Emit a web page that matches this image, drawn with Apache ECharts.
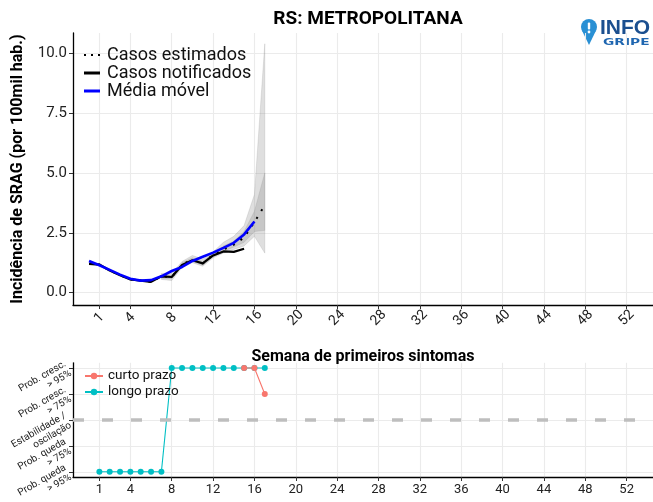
<!DOCTYPE html>
<html><head><meta charset="utf-8">
<script src="https://cdn.jsdelivr.net/npm/echarts@6/dist/echarts.min.js"></script>
<style>html,body{margin:0;padding:0;background:#fff}#c{width:653px;height:502px}</style>
</head><body><div id="c"></div>
<script>
// ---- Data ----
const weekTicks = [1,4,8,12,16,20,24,28,32,36,40,44,48,52];
const yTicksTop = [0,2.5,5,7.5,10];

const weeksNotified = [0,1,2,3,4,5,6,7,8,9,10,11,12,13,14,15];
const notified      = [1.2,1.17,0.92,0.72,0.55,0.5,0.45,0.68,0.65,1.15,1.35,1.22,1.55,1.72,1.7,1.83];

const weeksEstimated = [0,1,2,3,4,5,6,7,8,9,10,11,12,13,14,15,16,17];
const estimated      = [1.2,1.17,0.92,0.72,0.55,0.5,0.45,0.68,0.65,1.17,1.38,1.22,1.58,1.8,2.0,2.3,2.95,3.65];

const weeksMA = [0,1,2,3,4,5,6,7,8,9,10,11,12,13,14,15,16];
const movingAvg = [1.32,1.14,0.95,0.75,0.58,0.5,0.52,0.68,0.9,1.07,1.32,1.5,1.67,1.87,2.08,2.43,2.97];

const weeksBand = [7,8,9,10,11,12,13,14,15,16,17];
const outerLo = [0.55,0.5,1.05,1.25,1.1,1.45,1.65,1.8,1.95,2.35,1.65];
const outerHi = [0.8,0.8,1.3,1.55,1.4,1.7,2.1,2.35,2.8,4.1,10.4];
const innerLo = [0.6,0.58,1.1,1.3,1.15,1.5,1.72,1.9,2.1,2.55,2.6];
const innerHi = [0.75,0.72,1.25,1.45,1.3,1.65,1.95,2.15,2.55,3.4,5.0];

const trendLevels = [-2,-1,0,1,2];
const trendLabels = ['Prob. queda\n> 95%','Prob. queda\n> 75%','Estabilidade /\noscilação','Prob. cresc.\n> 75%','Prob. cresc.\n> 95%'];

const weeksLong = [1,2,3,4,5,6,7,8,9,10,11,12,13,14,15,16,17];
const longTerm  = [-2,-2,-2,-2,-2,-2,-2,2,2,2,2,2,2,2,2,2,2];
const weeksShort = [15,16,17];
const shortTerm  = [2,2,1];

// ---- Helpers ----
const zip = (xs, ys) => xs.map((x,i)=>[x, ys[i]]);
const font = 'Roboto, "Liberation Sans", sans-serif';

function bandSeries(lo, hi, color){
  return {
    type:'custom', xAxisIndex:0, yAxisIndex:0, silent:true, z:1,
    data: weeksBand.map((w,i)=>[w, lo[i], hi[i]]),
    renderItem(params, api){
      if (params.dataIndex !== 0) return null;
      const top = weeksBand.map((w,i)=>api.coord([w, hi[i]]));
      const bot = weeksBand.map((w,i)=>api.coord([w, lo[i]])).reverse();
      return {type:'polygon', shape:{points: top.concat(bot)},
        style:{fill: color, stroke:'rgba(140,140,140,0.35)', lineWidth:0.6}};
    }
  };
}

const chart = echarts.init(document.getElementById('c'));
const gridColor = '#ebebeb';
const xMin = -1.55, xMax = 54.55;

chart.setOption({
  animation:false,
  backgroundColor:'#fff',
  title:{ text:'RS: METROPOLITANA', left:363, top:5, textAlign:'center',
    textStyle:{fontFamily:font, fontSize:19, fontWeight:'bold', color:'#000'} },
  legend:[
    { left:79, top:41, orient:'vertical', itemGap:0, itemWidth:16, itemHeight:3,
      textStyle:{fontFamily:font, fontSize:18, lineHeight:17, color:'#111', padding:[0,0,0,2]},
      data:[
        {name:'Casos estimados', icon:'path://M0,0h2v2h-2zM7,0h2v2h-2zM14,0h2v2h-2z'},
        {name:'Casos notificados', icon:'rect'},
        {name:'Média móvel', icon:'rect'}
      ]},
    { left:79, top:364, orient:'vertical', itemGap:2, itemWidth:18, itemHeight:8,
      textStyle:{fontFamily:font, fontSize:13.5, color:'#111'},
      data:['curto prazo','longo prazo']}
  ],
  grid:[
    {left:73, right:0, top:33, height:272, outerBoundsMode:'none', containLabel:false},
    {left:73, right:0, top:362.8, height:114.2, outerBoundsMode:'none', containLabel:false}
  ],
  xAxis:[
    { type:'value', gridIndex:0, min:xMin, max:xMax,
      name:'Semana de primeiros sintomas', nameLocation:'middle', nameGap:44,
      nameTextStyle:{fontFamily:font, fontSize:16, fontWeight:'bold', color:'#000'},
      axisLine:{show:true, onZero:false, lineStyle:{color:'#000', width:1.3}},
      axisTick:{show:true, length:4, customValues:weekTicks, lineStyle:{color:'#333'}},
      axisLabel:{customValues:weekTicks, rotate:45, align:'center', verticalAlign:'middle',
        fontFamily:font, fontSize:14, color:'#222', margin:13, hideOverlap:false},
      splitLine:{show:true, lineStyle:{color:gridColor, width:1.1}} },
    { type:'value', gridIndex:1, min:xMin, max:xMax,
      axisLine:{show:true, onZero:false, lineStyle:{color:'#000', width:1.3}},
      axisTick:{show:true, length:4, customValues:weekTicks, lineStyle:{color:'#333'}},
      axisLabel:{customValues:weekTicks, fontFamily:font, fontSize:13, color:'#222', margin:6, hideOverlap:false},
      splitLine:{show:true, lineStyle:{color:gridColor, width:1.1}} }
  ],
  yAxis:[
    { type:'value', gridIndex:0, min:-0.52, max:10.85,
      name:'Incidência de SRAG (por 100mil hab.)', nameLocation:'middle', nameGap:47,
      nameTextStyle:{fontFamily:font, fontSize:16, fontWeight:'bold', color:'#000'},
      axisLine:{show:true, onZero:false, lineStyle:{color:'#000', width:1.3}},
      axisTick:{show:true, length:4, customValues:yTicksTop, lineStyle:{color:'#333'}},
      axisLabel:{customValues:yTicksTop, fontFamily:font, fontSize:15, color:'#222', margin:6,
        hideOverlap:false, formatter:v=>v.toFixed(1)},
      splitLine:{show:true, lineStyle:{color:gridColor, width:1.1}} },
    { type:'value', gridIndex:1, min:-2.2, max:2.2,
      axisLine:{show:true, onZero:false, lineStyle:{color:'#000', width:1.3}},
      axisTick:{show:true, length:4, customValues:trendLevels, lineStyle:{color:'#333'}},
      axisLabel:{customValues:trendLevels, rotate:30, fontFamily:font, fontSize:10, color:'#222',
        margin:5, align:'right', lineHeight:11, hideOverlap:false, showMinLabel:true, showMaxLabel:true,
        formatter:v=>trendLabels[trendLevels.indexOf(Math.round(v))] || ''},
      splitLine:{show:true, lineStyle:{color:gridColor, width:1.1}} }
  ],
  series:[
    bandSeries(outerLo, outerHi, 'rgba(128,128,128,0.25)'),
    bandSeries(innerLo, innerHi, 'rgba(128,128,128,0.25)'),
    { name:'Casos notificados', type:'line', xAxisIndex:0, yAxisIndex:0, z:3,
      data:zip(weeksNotified, notified), showSymbol:false, symbol:'none',
      itemStyle:{color:'#000'}, lineStyle:{color:'#000', width:2.2} },
    { name:'Casos estimados', type:'line', xAxisIndex:0, yAxisIndex:0, z:4,
      data:zip(weeksEstimated, estimated), showSymbol:false, symbol:'none',
      itemStyle:{color:'#000'}, lineStyle:{color:'#000', width:2, type:[2,7]} },
    { name:'Média móvel', type:'line', xAxisIndex:0, yAxisIndex:0, z:5,
      data:zip(weeksMA, movingAvg), showSymbol:false, symbol:'none',
      itemStyle:{color:'#0000ff'}, lineStyle:{color:'#0000ff', width:2.6} },
    { name:'curto prazo', type:'line', xAxisIndex:1, yAxisIndex:1, z:3,
      data:zip(weeksShort, shortTerm), symbol:'circle', symbolSize:6,
      itemStyle:{color:'#F8766D'}, lineStyle:{color:'#F8766D', width:1.1} },
    { name:'longo prazo', type:'line', xAxisIndex:1, yAxisIndex:1, z:2,
      data:zip(weeksLong, longTerm), symbol:'circle', symbolSize:6,
      itemStyle:{color:'#00BFC4'}, lineStyle:{color:'#00BFC4', width:1.1},
      markLine:{ silent:true, symbol:'none', label:{show:false},
        lineStyle:{color:'#bebebe', width:3.5, type:[11,18]},
        data:[{yAxis:0}] } }
  ],
  graphic:[
    { type:'group', left:581, top:18, children:[
      { type:'circle', shape:{cx:8, cy:8, r:8}, style:{fill:'#2a90d4'} },
      { type:'polygon', shape:{points:[[1.2,12],[14.8,12],[8,26]]}, style:{fill:'#2a90d4'} },
      { type:'rect', shape:{x:6.8, y:3.5, width:2.4, height:7, r:1}, style:{fill:'#fff'} },
      { type:'circle', shape:{cx:8, cy:13, r:1.4}, style:{fill:'#fff'} },
      { type:'text', x:19, y:-1, style:{text:'INFO', fontFamily:'"Liberation Sans", Arial, sans-serif', fontSize:21, fontWeight:'bold', fill:'#1b4f8f'} },
      { type:'text', x:22, y:19, scaleX:1.45, style:{text:'GRIPE', fontFamily:'"DejaVu Sans", sans-serif', fontSize:9.5, fontWeight:'bold', fill:'#1f66b0'} }
    ]}
  ]
});
</script></body></html>
